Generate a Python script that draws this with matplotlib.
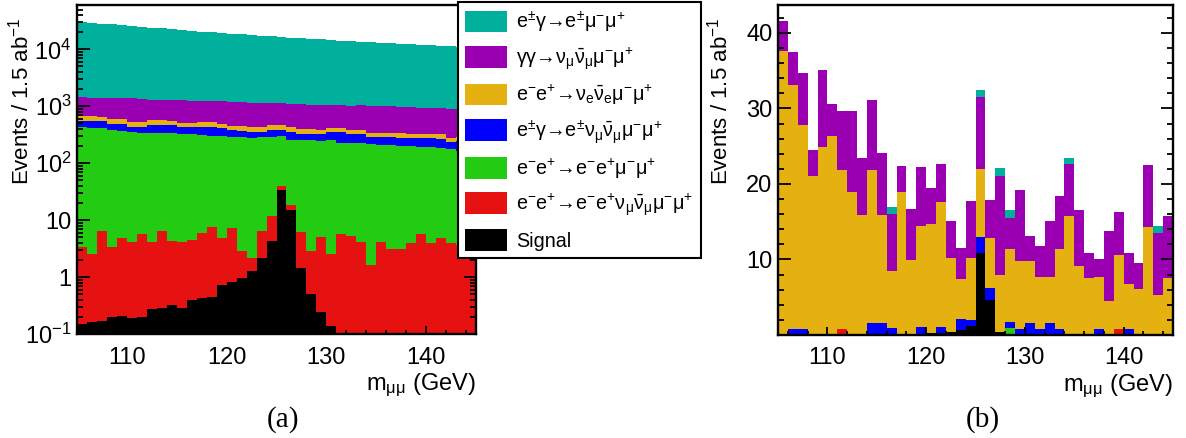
"""
Stacked m_mumu histograms: (a) before cuts on a log scale, (b) after cuts.
"""

import numpy as np
import matplotlib
matplotlib.use("Agg")
import matplotlib.pyplot as plt
from matplotlib.patches import Patch
from matplotlib.ticker import MultipleLocator, LogLocator, NullFormatter

plt.rcParams['font.family'] = ['Liberation Sans', 'DejaVu Sans']
plt.rcParams['mathtext.fontset'] = 'custom'
plt.rcParams['mathtext.rm'] = 'Liberation Sans'
plt.rcParams['mathtext.it'] = 'Liberation Sans'
plt.rcParams['mathtext.bf'] = 'Liberation Sans:bold'

# 1 GeV bins from 105 to 145 GeV
edges = np.arange(105, 146, 1)

# processes, bottom of the stack first
names = [
    'Signal',
    r'e$^{-}$e$^{+}$→e$^{-}$e$^{+}$ν$_{\mu}\bar{\nu}_{\mu}$μ$^{-}$μ$^{+}$',
    r'e$^{-}$e$^{+}$→e$^{-}$e$^{+}$μ$^{-}$μ$^{+}$',
    r'e$^{\pm}$γ→e$^{\pm}$ν$_{\mu}\bar{\nu}_{\mu}$μ$^{-}$μ$^{+}$',
    r'e$^{-}$e$^{+}$→ν$_{e}\bar{\nu}_{e}$μ$^{-}$μ$^{+}$',
    r'γγ→ν$_{\mu}\bar{\nu}_{\mu}$μ$^{-}$μ$^{+}$',
    r'e$^{\pm}$γ→e$^{\pm}$μ$^{-}$μ$^{+}$',
]
colors = ['#000000', '#e61212', '#23cb12', '#0000ff', '#e5b111', '#9a00b1', '#00b09c']

# (a) events per bin, before selection
a_sig = [0.15, 0.16, 0.165, 0.2, 0.21, 0.19, 0.2, 0.27, 0.29, 0.32,
         0.28, 0.4, 0.42, 0.45, 0.73, 0.81, 0.98, 1.3, 2.15, 4.3,
         34, 15, 1.47, 0.5, 0.24, 0.14, 0.08, 0.07, 0.06, 0.05,
         0.05, 0.04, 0.04, 0.04, 0.03, 0.03, 0.03, 0.03, 0.03, 0.03]
a_eeemvv = [3.2, 2.4, 6.3, 3.2, 4.6, 4.0, 5.5, 3.9, 6.2, 4.0,
            3.9, 4.0, 5.5, 7.2, 4.1, 6.5, 1.9, 0.85, 4.2, 7.7,
            6.0, 3.6, 4.8, 2.4, 4.8, 2.4, 5.6, 5.1, 4.1, 1.6,
            4.0, 3.1, 3.1, 4.0, 5.7, 4.0, 4.8, 4.0, 3.6, 3.3]
a_eeemm = [426, 417, 404, 372, 365, 346, 339, 341, 334, 336,
           326, 321, 304, 297, 295, 283, 282, 278, 279, 278,
           255, 241, 249, 252, 245, 248, 222, 220, 218, 213,
           208, 207, 197, 194, 190, 191, 180, 171, 161, 157]
a_egemvv = [121, 130, 135, 115, 120, 87, 92, 125, 130, 125,
            100, 105, 127, 132, 110, 85, 90, 75, 70, 100,
            95, 95, 73, 73, 70, 100, 122, 105, 108, 71,
            74, 76, 80, 82, 84, 85, 85, 58, 80, 85]
a_eevv = [115, 112, 110, 105, 100, 95, 92, 96, 94, 93,
          88, 87, 86, 84, 80, 76, 75, 72, 71, 74,
          73, 70, 66, 64, 62, 64, 63, 60, 60, 56,
          55, 54, 53, 52, 52, 51, 50, 47, 48, 47]
a_ggvv = [815, 755, 755, 805, 810, 850, 800, 745, 735, 730,
          760, 730, 705, 710, 730, 750, 730, 720, 715, 675,
          695, 675, 685, 680, 690, 655, 630, 640, 650, 680,
          660, 650, 637, 628, 618, 608, 610, 630, 615, 610]
a_egemm = [28500, 27600, 26600, 26100, 25100, 24100, 23700, 22700, 21900, 21200,
           20500, 19750, 19270, 18570, 17980, 17500, 17020, 16550, 16060, 15660,
           15340, 14900, 14520, 14230, 13825, 13430, 13160, 12870, 12560, 12280,
           12000, 11710, 11430, 11240, 10950, 10760, 10570, 10390, 10200, 10000]

# (b) events per bin, after selection
b_sig = [0, 0, 0, 0, 0, 0, 0, 0, 0, 0,
         0, 0, 0, 0.05, 0.1, 0.25, 0.3, 0.35, 0.66, 1.24,
         10.8, 4.7, 0.35, 0.1, 0, 0, 0, 0, 0, 0,
         0, 0, 0, 0, 0, 0, 0, 0, 0, 0]
b_eeemvv = [0, 0, 0, 0, 0, 0, 0.8, 0, 0, 0,
            0, 0, 0, 0, 0, 0, 0, 0, 0, 0,
            0, 0, 0, 0, 0, 0, 0, 0, 0, 0,
            0, 0, 0, 0, 0.75, 0, 0, 0, 0, 0]
b_eeemm = [0, 0, 0, 0, 0, 0, 0, 0, 0, 0,
           0, 0, 0, 0, 0, 0, 0, 0, 0, 0,
           0, 0, 0, 0.8, 0, 0, 0, 0, 0, 0,
           0, 0, 0, 0, 0, 0, 0, 0, 0, 0]
b_egemvv = [0, 0.75, 0.75, 0, 0, 0, 0, 0, 0, 1.6,
            1.55, 0.9, 0, 0, 0.95, 0, 0.75, 0, 1.45, 0.8,
            2.2, 1.5, 0, 0.8, 0.75, 1.55, 0.75, 1.55, 0.75, 0,
            0, 0, 0.75, 0, 0, 0.75, 0, 0, 0, 0]
b_eevv = [37.6, 32.4, 27.1, 21.1, 24.9, 26.4, 21.1, 18.9, 15.9, 20.3,
          14.3, 7.6, 18.9, 9.9, 13.4, 14.4, 16.6, 9.8, 5.3, 8.2,
          9.0, 6.7, 7.6, 9.7, 9.1, 8.3, 6.9, 6.1, 10.6, 15.8,
          9.1, 7.6, 6.9, 4.5, 9.9, 6.0, 6.1, 14.3, 5.3, 7.6]
b_ggvv = [4.0, 4.3, 6.8, 3.4, 10.2, 4.2, 7.7, 10.7, 7.6, 9.2,
          8.2, 7.5, 3.5, 6.7, 7.8, 4.8, 5.0, 5.0, 4.1, 7.5,
          9.5, 5.0, 13.1, 4.1, 9.3, 3.2, 4.2, 7.5, 7.1, 6.8,
          7.5, 3.2, 2.4, 9.3, 5.6, 4.1, 3.4, 8.2, 8.2, 8.1]
b_egemm = [0, 0, 0, 0, 0, 0, 0, 0, 0, 0,
           0, 0.9, 0, 0, 0, 0, 0, 0, 0, 0,
           1.0, 0, 1.0, 1.1, 0, 0, 0, 0, 0, 0.9,
           0, 0, 0, 0, 0, 0, 0, 0, 0.9, 0]

stack_a = [a_sig, a_eeemvv, a_eeemm, a_egemvv, a_eevv, a_ggvv, a_egemm]
stack_b = [b_sig, b_eeemvv, b_eeemm, b_egemvv, b_eevv, b_ggvv, b_egemm]


def draw_stack(ax, layers, floor):
    below = np.full(len(edges) - 1, floor, dtype=float)
    for vals, col in zip(layers, colors):
        top = below + np.asarray(vals, dtype=float)
        ax.stairs(top, edges, baseline=below, fill=True, color=col, lw=0)
        below = top


def style_axes(ax, ylen):
    ax.set_xlim(105, 145)
    ax.xaxis.set_major_locator(MultipleLocator(10))
    ax.xaxis.set_minor_locator(MultipleLocator(2))
    ax.tick_params(which='both', direction='in', top=False, right=True,
                   labelsize=17, width=1.3, color='black')
    ax.tick_params(axis='x', which='major', length=6, pad=9)
    ax.tick_params(axis='x', which='minor', length=3)
    ax.tick_params(axis='y', which='major', length=ylen, pad=4)
    ax.tick_params(axis='y', which='minor', length=ylen / 2)
    for sp in ax.spines.values():
        sp.set_linewidth(1.7)
    ax.set_xlabel(r'm$_{\mu\mu}$ (GeV)', fontsize=17, ha='right')
    ax.xaxis.set_label_coords(1.0, -0.115)
    ax.set_ylabel(r'Events / 1.5 ab$^{-1}$', fontsize=16, ha='right')


fig = plt.figure(figsize=(11.86, 4.38), dpi=100)
ax1 = fig.add_axes([77 / 1186, 1 - 334 / 438, 399 / 1186, 329 / 438])
ax2 = fig.add_axes([778 / 1186, 1 - 335 / 438, 395 / 1186, 330 / 438])

# (a) log scale
draw_stack(ax1, stack_a, 1e-3)
ax1.set_yscale('log')
ax1.set_ylim(0.1, 6e4)
ax1.set_yticks([0.1, 1, 10, 100, 1000, 1e4])
ax1.set_yticklabels(['$10^{-1}$', '1', '10', '$10^{2}$', '$10^{3}$', '$10^{4}$'])
ax1.yaxis.set_minor_locator(LogLocator(base=10, subs=np.arange(2, 10), numticks=20))
ax1.yaxis.set_minor_formatter(NullFormatter())
style_axes(ax1, 9)
ax1.yaxis.set_label_coords(-0.108, 0.963)

# (b) linear scale
draw_stack(ax2, stack_b, 0.0)
ax2.set_ylim(0, 43.7)
ax2.set_yticks([10, 20, 30, 40])
ax2.yaxis.set_minor_locator(MultipleLocator(2))
style_axes(ax2, 9)
ax2.yaxis.set_label_coords(-0.116, 0.963)

# legend, top entry first
handles = [Patch(facecolor=c, edgecolor='none') for c in colors[::-1]]
leg = fig.legend(handles, names[::-1], loc='upper left',
                 bbox_to_anchor=(458 / 1186, 1 - 2 / 438), fontsize=14.2,
                 frameon=True, fancybox=False, edgecolor='black', framealpha=1,
                 handlelength=2.12, handleheight=1.32, handletextpad=0.45,
                 labelspacing=0.55, borderpad=0.38, borderaxespad=0)
leg.get_frame().set_linewidth(1.5)

fig.text(283 / 1186, 1 - 420 / 438, '(a)', family='Liberation Serif',
         fontsize=21, ha='center', va='center')
fig.text(983 / 1186, 1 - 420 / 438, '(b)', family='Liberation Serif',
         fontsize=21, ha='center', va='center')

fig.savefig('out.png', dpi=100)
